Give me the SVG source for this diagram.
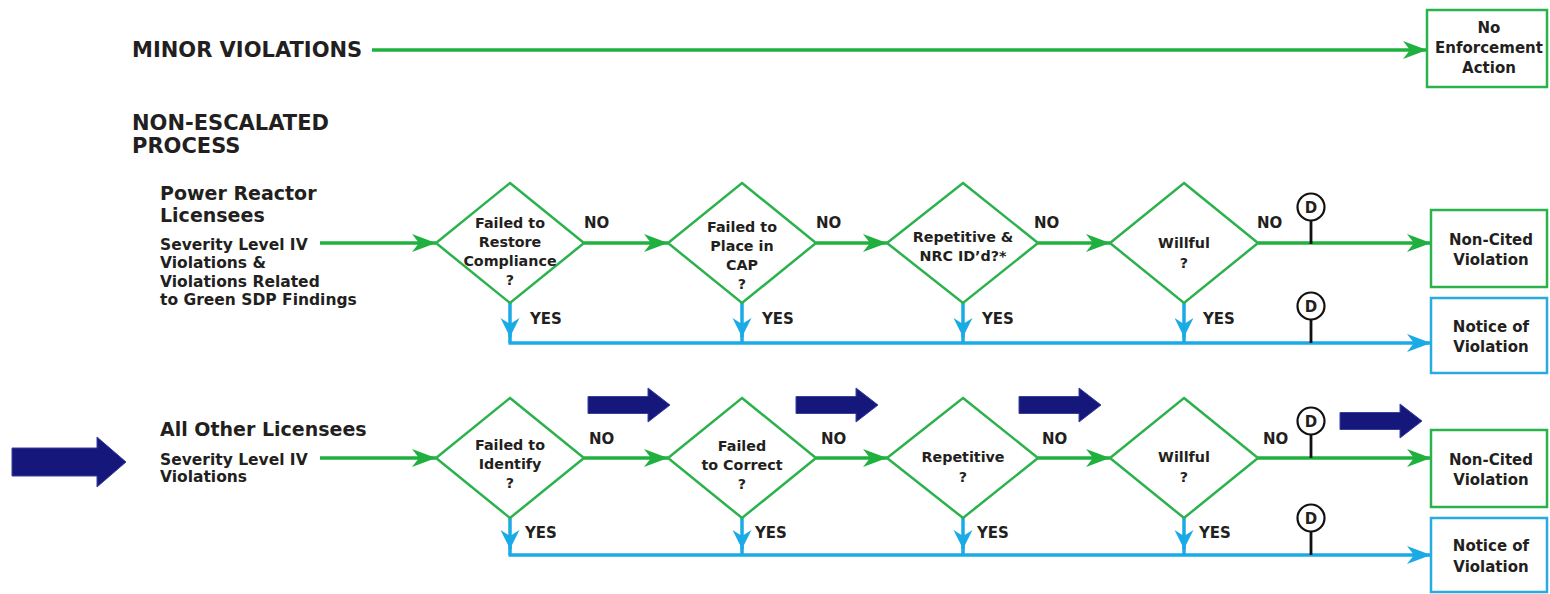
<svg xmlns="http://www.w3.org/2000/svg" width="1550" height="594" viewBox="0 0 1550 594">
  <style>
    text { font-family: "DejaVu Sans", "Liberation Sans", sans-serif; font-weight: bold; fill: #231f20; }
    .h1 { font-size: 21px; }
    .h2 { font-size: 19px; }
    .sub { font-size: 15.5px; }
    .lbl { font-size: 15px; }
    .box { font-size: 15px; text-anchor: middle; }
    .dtxt { font-size: 14.3px; text-anchor: middle; }
    .diamond { fill: #fff; stroke: #2bb24c; stroke-width: 2.5; }
    .gbox { fill: #fff; stroke: #2bb24c; stroke-width: 2.5; }
    .bbox { fill: #fff; stroke: #29abe2; stroke-width: 2.5; }
    .g { fill: none; stroke: #1fb040; stroke-width: 3.5; }
    .b { fill: none; stroke: #1aaae6; stroke-width: 3.5; }
    .stem { stroke: #111; stroke-width: 2.8; }
    .dcirc { fill: #fff; stroke: #111; stroke-width: 2.2; }
    .navy { fill: #15187a; stroke: #3b3f9c; stroke-width: 1; }
  </style>
  <defs>
    <marker id="gh" markerUnits="userSpaceOnUse" markerWidth="26" markerHeight="20" refX="24" refY="9" orient="auto">
      <path d="M0,0 L24,9 L0,18 L7,9 Z" fill="#1fb040"/>
    </marker>
    <marker id="bh" markerUnits="userSpaceOnUse" markerWidth="26" markerHeight="20" refX="24" refY="9" orient="auto">
      <path d="M0,0 L24,9 L0,18 L7,9 Z" fill="#1aaae6"/>
    </marker>
    <marker id="bd" markerUnits="userSpaceOnUse" markerWidth="22" markerHeight="22" refX="19" refY="9.5" orient="auto">
      <path d="M0,0 L19,9.5 L0,19 L6,9.5 Z" fill="#1aaae6"/>
    </marker>
    <g id="dmark">
      <line class="stem" x1="0" y1="14" x2="0" y2="37"/>
      <circle class="dcirc" cx="0" cy="0" r="13.5"/>
      <text x="0" y="5.5" style="font-size:15px;text-anchor:middle">D</text>
    </g>
    <path id="bigarrow" d="M0,-8.5 H60 V-17 L82,0 L60,17 V8.5 H0 Z"/>
  </defs>

  <!-- section headings -->
  <g id="headings">
    <text class="h1" x="132" y="57">MINOR VIOLATIONS</text>
    <text class="h1" x="132" y="130">NON-ESCALATED</text>
    <text class="h1" x="132" y="153">PROCESS</text>
  </g>

  <!-- entry labels -->
  <g id="power-reactor">
    <text class="h2" x="160" y="200">Power Reactor</text>
    <text class="h2" x="160" y="222">Licensees</text>
    <text class="sub" x="160" y="250">Severity Level IV</text>
    <text class="sub" x="160" y="268">Violations &amp;</text>
    <text class="sub" x="160" y="287">Violations Related</text>
    <text class="sub" x="160" y="305">to Green SDP Findings</text>
  </g>
  <g id="other-licensees">
    <text class="h2" x="160" y="436">All Other Licensees</text>
    <text class="sub" x="160" y="465">Severity Level IV</text>
    <text class="sub" x="160" y="482">Violations</text>
  </g>

  <!-- connectors -->
  <g id="connectors">
    <line class="g" x1="372" y1="50" x2="1427" y2="50" marker-end="url(#gh)"/>

    <!-- row 1: NO path -->
    <line class="g" x1="320" y1="243" x2="436" y2="243" marker-end="url(#gh)"/>
    <line class="g" x1="584" y1="243" x2="668" y2="243" marker-end="url(#gh)"/>
    <line class="g" x1="816" y1="243" x2="887" y2="243" marker-end="url(#gh)"/>
    <line class="g" x1="1038" y1="243" x2="1110" y2="243" marker-end="url(#gh)"/>
    <line class="g" x1="1258" y1="243" x2="1431" y2="243" marker-end="url(#gh)"/>
    <!-- row 1: YES path -->
    <line class="b" x1="510" y1="303" x2="510" y2="337" marker-end="url(#bd)"/>
    <line class="b" x1="742" y1="303" x2="742" y2="337" marker-end="url(#bd)"/>
    <line class="b" x1="963" y1="303" x2="963" y2="337" marker-end="url(#bd)"/>
    <line class="b" x1="1184" y1="303" x2="1184" y2="337" marker-end="url(#bd)"/>
    <path class="b" d="M510,334 V343 M742,334 V343 M963,334 V343 M1184,334 V343"/>
    <line class="b" x1="508.5" y1="343" x2="1431" y2="343" marker-end="url(#bh)"/>

    <!-- row 2: NO path -->
    <line class="g" x1="320" y1="458" x2="436" y2="458" marker-end="url(#gh)"/>
    <line class="g" x1="584" y1="458" x2="668" y2="458" marker-end="url(#gh)"/>
    <line class="g" x1="816" y1="458" x2="887" y2="458" marker-end="url(#gh)"/>
    <line class="g" x1="1038" y1="458" x2="1110" y2="458" marker-end="url(#gh)"/>
    <line class="g" x1="1258" y1="458" x2="1431" y2="458" marker-end="url(#gh)"/>
    <!-- row 2: YES path -->
    <line class="b" x1="510" y1="518" x2="510" y2="549" marker-end="url(#bd)"/>
    <line class="b" x1="742" y1="518" x2="742" y2="549" marker-end="url(#bd)"/>
    <line class="b" x1="963" y1="518" x2="963" y2="549" marker-end="url(#bd)"/>
    <line class="b" x1="1184" y1="518" x2="1184" y2="549" marker-end="url(#bd)"/>
    <path class="b" d="M510,546 V555 M742,546 V555 M963,546 V555 M1184,546 V555"/>
    <line class="b" x1="508.5" y1="555" x2="1431" y2="555" marker-end="url(#bh)"/>

    <!-- discretion markers -->
    <use href="#dmark" x="1311" y="207"/>
    <use href="#dmark" x="1311" y="306"/>
    <use href="#dmark" x="1311" y="421"/>
    <use href="#dmark" x="1311" y="518"/>

    <!-- branch labels -->
    <text class="lbl" x="584" y="228">NO</text>
    <text class="lbl" x="816" y="228">NO</text>
    <text class="lbl" x="1034" y="228">NO</text>
    <text class="lbl" x="1257" y="228">NO</text>
    <text class="lbl" x="530" y="324">YES</text>
    <text class="lbl" x="762" y="324">YES</text>
    <text class="lbl" x="982" y="324">YES</text>
    <text class="lbl" x="1203" y="324">YES</text>

    <text class="lbl" x="589" y="444">NO</text>
    <text class="lbl" x="821" y="444">NO</text>
    <text class="lbl" x="1042" y="444">NO</text>
    <text class="lbl" x="1263" y="444">NO</text>
    <text class="lbl" x="525" y="538">YES</text>
    <text class="lbl" x="755" y="538">YES</text>
    <text class="lbl" x="977" y="538">YES</text>
    <text class="lbl" x="1199" y="538">YES</text>
  </g>

  <!-- row 1 decisions -->
  <g id="r1-restore">
    <polygon class="diamond" points="510,183 584,243 510,303 436,243"/>
    <text class="dtxt" x="510" y="228">Failed to</text>
    <text class="dtxt" x="510" y="247">Restore</text>
    <text class="dtxt" x="510" y="266">Compliance</text>
    <text class="dtxt" x="510" y="285">?</text>
  </g>
  <g id="r1-cap">
    <polygon class="diamond" points="742,183 816,243 742,303 668,243"/>
    <text class="dtxt" x="742" y="232">Failed to</text>
    <text class="dtxt" x="742" y="251">Place in</text>
    <text class="dtxt" x="742" y="270">CAP</text>
    <text class="dtxt" x="742" y="289">?</text>
  </g>
  <g id="r1-repetitive">
    <polygon class="diamond" points="963,183 1038,243 963,303 887,243"/>
    <text class="dtxt" x="963" y="242">Repetitive &amp;</text>
    <text class="dtxt" x="963" y="261">NRC ID’d?*</text>
  </g>
  <g id="r1-willful">
    <polygon class="diamond" points="1184,183 1258,243 1184,303 1110,243"/>
    <text class="dtxt" x="1184" y="248">Willful</text>
    <text class="dtxt" x="1184" y="268">?</text>
  </g>

  <!-- row 2 decisions -->
  <g id="r2-identify">
    <polygon class="diamond" points="510,398 584,458 510,518 436,458"/>
    <text class="dtxt" x="510" y="450">Failed to</text>
    <text class="dtxt" x="510" y="469">Identify</text>
    <text class="dtxt" x="510" y="488">?</text>
  </g>
  <g id="r2-correct">
    <polygon class="diamond" points="742,398 816,458 742,518 668,458"/>
    <text class="dtxt" x="742" y="451">Failed</text>
    <text class="dtxt" x="742" y="470">to Correct</text>
    <text class="dtxt" x="742" y="489">?</text>
  </g>
  <g id="r2-repetitive">
    <polygon class="diamond" points="963,398 1038,458 963,518 887,458"/>
    <text class="dtxt" x="963" y="462">Repetitive</text>
    <text class="dtxt" x="963" y="482">?</text>
  </g>
  <g id="r2-willful">
    <polygon class="diamond" points="1184,398 1258,458 1184,518 1110,458"/>
    <text class="dtxt" x="1184" y="462">Willful</text>
    <text class="dtxt" x="1184" y="482">?</text>
  </g>

  <!-- outcomes -->
  <g id="no-enforcement">
    <rect class="gbox" x="1427" y="10" width="120" height="77"/>
    <text class="box" x="1489" y="33">No</text>
    <text class="box" x="1489" y="53">Enforcement</text>
    <text class="box" x="1489" y="73">Action</text>
  </g>
  <g id="r1-ncv">
    <rect class="gbox" x="1431" y="210" width="116" height="77"/>
    <text class="box" x="1491" y="245">Non-Cited</text>
    <text class="box" x="1491" y="265">Violation</text>
  </g>
  <g id="r1-nov">
    <rect class="bbox" x="1431" y="298" width="116" height="75"/>
    <text class="box" x="1491" y="332">Notice of</text>
    <text class="box" x="1491" y="352">Violation</text>
  </g>
  <g id="r2-ncv">
    <rect class="gbox" x="1431" y="430" width="116" height="77"/>
    <text class="box" x="1491" y="465">Non-Cited</text>
    <text class="box" x="1491" y="485">Violation</text>
  </g>
  <g id="r2-nov">
    <rect class="bbox" x="1431" y="518" width="116" height="74"/>
    <text class="box" x="1491" y="551">Notice of</text>
    <text class="box" x="1491" y="572">Violation</text>
  </g>

  <!-- highlight arrows -->
  <g id="highlights">
    <path class="navy" d="M12,448 H97 V437 L126,462 L97,487 V476 H12 Z"/>
    <use class="navy" href="#bigarrow" x="588" y="405"/>
    <use class="navy" href="#bigarrow" x="796" y="405"/>
    <use class="navy" href="#bigarrow" x="1019" y="405"/>
    <use class="navy" href="#bigarrow" x="1340" y="421"/>
  </g>
</svg>
